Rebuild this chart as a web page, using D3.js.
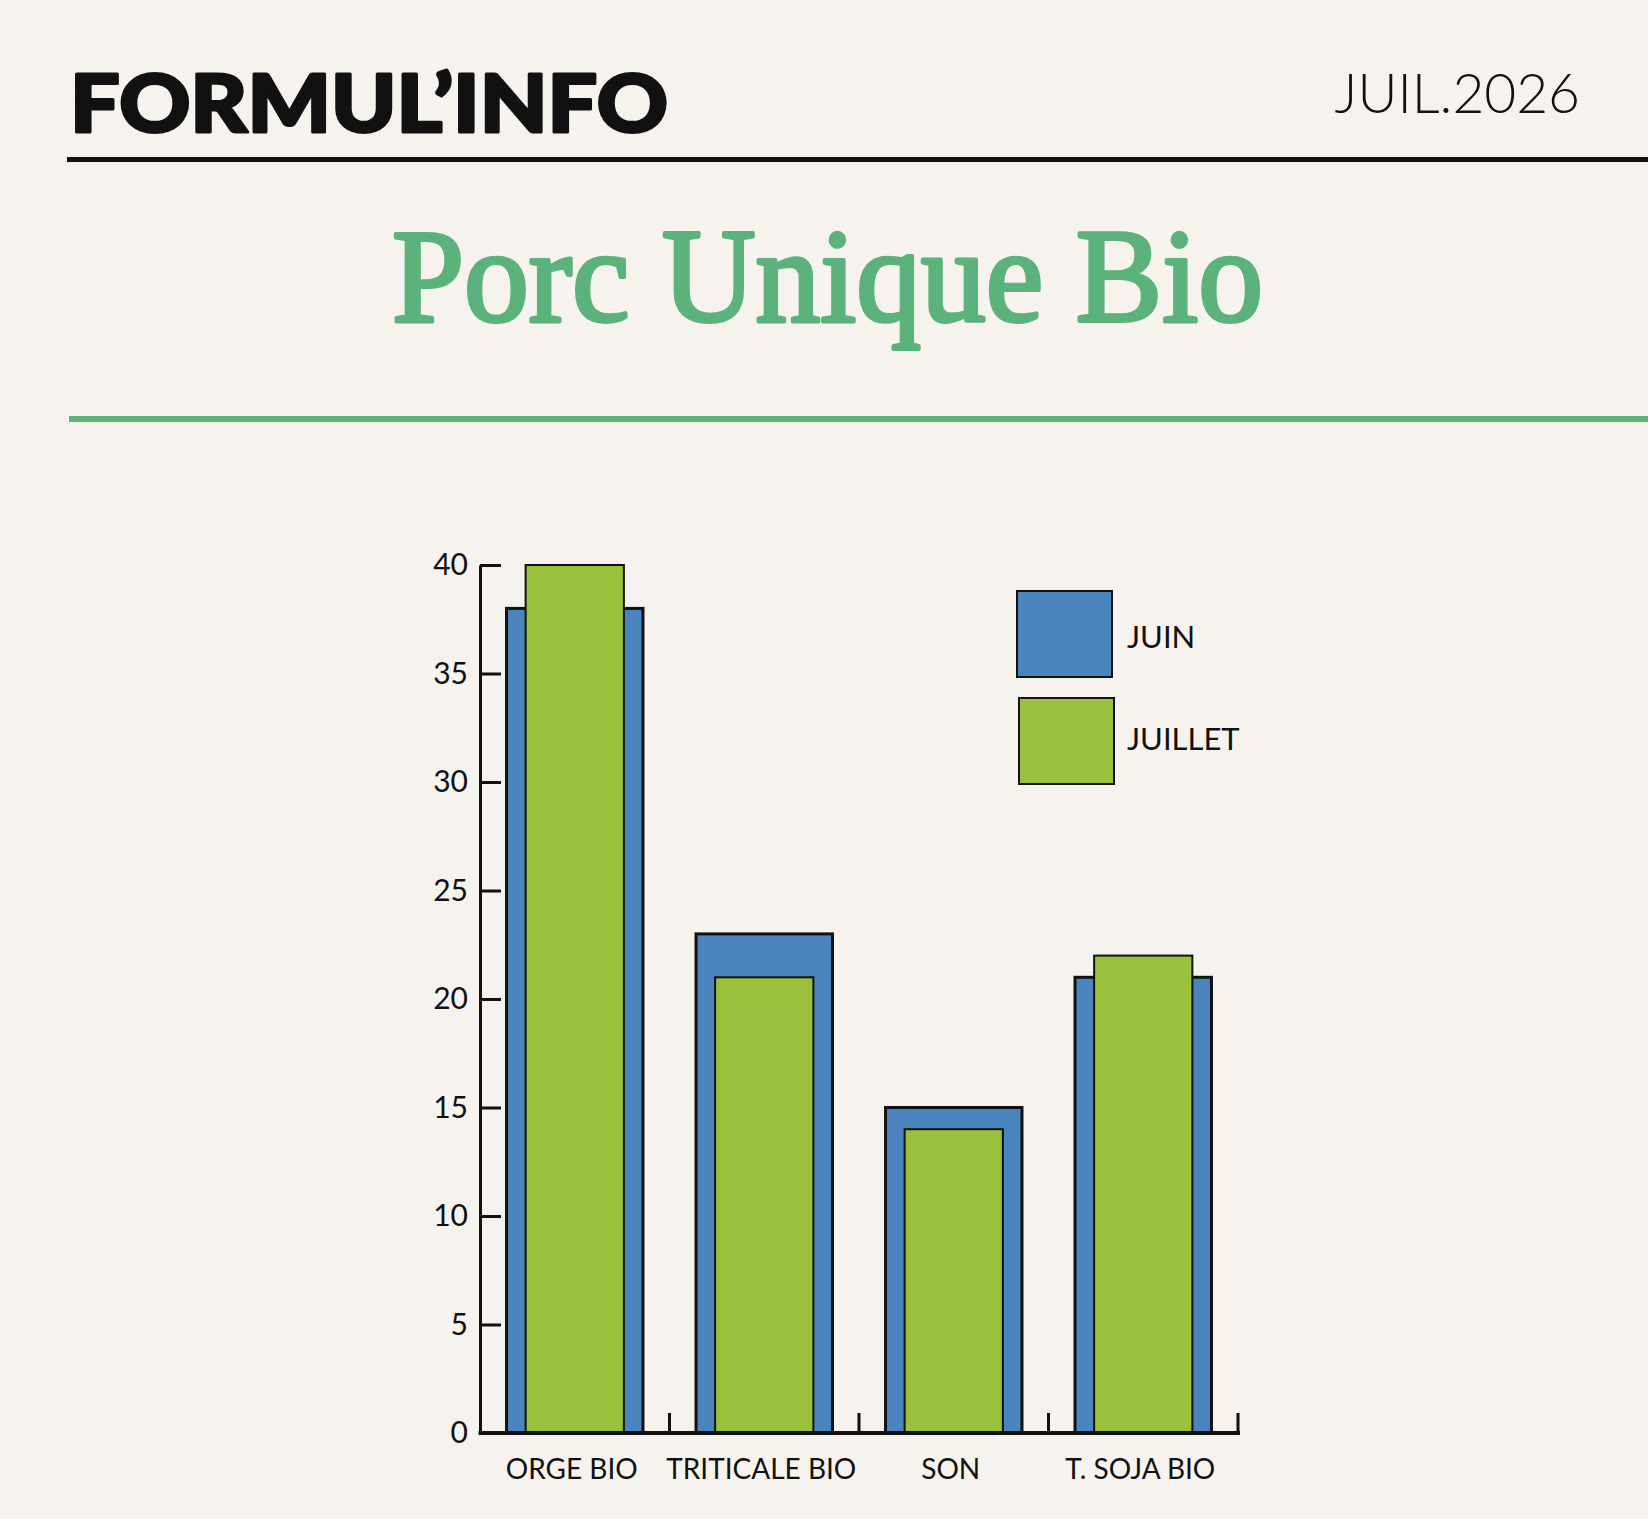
<!DOCTYPE html>
<html>
<head>
<meta charset="utf-8">
<script src="https://cdn.jsdelivr.net/npm/d3@7"></script>
<style>
  body { margin: 0; background: #f6f2ee; }
  svg { display: block; }
</style>
</head>
<body>
<div id="chart"></div>
<script>
//categories and series
var categories = ["ORGE BIO", "TRITICALE BIO", "SON", "T. SOJA BIO"];
var seriesNames = ["JUIN", "JUILLET"];
var juin = [38, 23, 15, 21];
var juillet = [40, 21, 14, 22];
var yTicks = [0, 5, 10, 15, 20, 25, 30, 35, 40];

var blue = "#4a86bd";
var green = "#99c13c";
var titleGreen = "#5bb27a";

var width = 1648, height = 1519;

var svg = d3.select("#chart")
  .append("svg")
  .attr("width", width)
  .attr("height", height);

svg.append("rect")
  .attr("width", width)
  .attr("height", height)
  .attr("fill", "#f6f2ee");

//header
svg.append("text")
  .attr("x", 70)
  .attr("y", 132)
  .attr("font-family", "Lato")
  .attr("font-weight", 900)
  .attr("font-size", 80)
  .attr("textLength", 598)
  .attr("lengthAdjust", "spacingAndGlyphs")
  .attr("fill", "#111")
  .attr("stroke", "#111")
  .attr("stroke-width", 3)
  .attr("stroke-linejoin", "round")
  .text("FORMUL\u2019INFO");

svg.append("text")
  .attr("x", 1580)
  .attr("y", 113)
  .attr("text-anchor", "end")
  .attr("font-family", "Lato")
  .attr("font-weight", 300)
  .attr("font-size", 55)
  .attr("fill", "#111")
  .text("JUIL.2026");

svg.append("rect")
  .attr("x", 67).attr("y", 157)
  .attr("width", width - 67).attr("height", 5)
  .attr("fill", "#111");

//title
svg.append("text")
  .attr("x", 392)
  .attr("y", 321)
  .attr("font-family", "Liberation Serif")
  .attr("font-weight", 400)
  .attr("font-size", 133)
  .attr("textLength", 871)
  .attr("lengthAdjust", "spacingAndGlyphs")
  .attr("fill", titleGreen)
  .attr("stroke", titleGreen)
  .attr("stroke-width", 4)
  .attr("stroke-linejoin", "round")
  .text("Porc Unique Bio");

svg.append("rect")
  .attr("x", 69).attr("y", 416)
  .attr("width", width - 69).attr("height", 6)
  .attr("fill", titleGreen);

//chart area
var x0 = 480, x1 = 1238, yBase = 1433, yTop = 565;

var x = d3.scaleBand()
  .domain(categories)
  .range([x0, x1])
  .paddingInner(0.28)
  .paddingOuter(0.14);

var y = d3.scaleLinear()
  .domain([0, 40])
  .range([yBase, yTop]);

var g = svg.append("g");

//juin bars (wide, behind)
g.selectAll(".juin")
  .data(categories)
  .enter()
  .append("rect")
  .attr("class", "juin")
  .attr("x", function(d) { return x(d); })
  .attr("y", function(d, i) { return y(juin[i]); })
  .attr("width", x.bandwidth())
  .attr("height", function(d, i) { return y(0) - y(juin[i]); })
  .attr("fill", blue)
  .attr("stroke", "#111")
  .attr("stroke-width", 3);

//juillet bars (narrow, in front)
var inset = x.bandwidth() * 0.14;
g.selectAll(".juillet")
  .data(categories)
  .enter()
  .append("rect")
  .attr("class", "juillet")
  .attr("x", function(d) { return x(d) + inset; })
  .attr("y", function(d, i) { return y(juillet[i]); })
  .attr("width", x.bandwidth() - 2 * inset)
  .attr("height", function(d, i) { return y(0) - y(juillet[i]); })
  .attr("fill", green)
  .attr("stroke", "#111")
  .attr("stroke-width", 2);

//y axis
var yAxis = d3.axisLeft(y)
  .tickValues(yTicks)
  .tickSizeInner(-21)
  .tickSizeOuter(0)
  .tickPadding(12);

var yg = svg.append("g")
  .attr("transform", "translate(" + x0 + ",0)")
  .call(yAxis);

yg.selectAll("path, line")
  .attr("stroke", "#111")
  .attr("stroke-width", 3);
yg.selectAll("text")
  .attr("font-family", "Lato")
  .attr("font-size", 30)
  .attr("fill", "#111");
//drop the tick at zero, the baseline covers it
yg.selectAll(".tick").filter(function(d) { return d === 0; }).select("line").remove();

//x axis baseline
svg.append("line")
  .attr("x1", x0 - 1.5).attr("x2", x1 + 2)
  .attr("y1", yBase).attr("y2", yBase)
  .attr("stroke", "#111")
  .attr("stroke-width", 4);

//ticks at band boundaries
var boundaries = categories.map(function(d) {
  return x(d) + x.bandwidth() + x.step() * x.paddingInner() / 2;
});
svg.selectAll(".xtick")
  .data(boundaries)
  .enter()
  .append("line")
  .attr("class", "xtick")
  .attr("x1", function(d) { return d; })
  .attr("x2", function(d) { return d; })
  .attr("y1", yBase)
  .attr("y2", yBase - 20)
  .attr("stroke", "#111")
  .attr("stroke-width", 3);

//category labels
var xAxis = d3.axisBottom(x).tickSize(0).tickPadding(26);
var xg = svg.append("g")
  .attr("transform", "translate(-3," + yBase + ")")
  .call(xAxis);
xg.select(".domain").remove();
xg.selectAll("text")
  .attr("font-family", "Lato")
  .attr("font-size", 28)
  .attr("fill", "#111");

//legend
var legend = svg.append("g").attr("transform", "translate(1017,591)");
var legendColors = [blue, green];
var item = legend.selectAll(".item")
  .data(seriesNames)
  .enter()
  .append("g")
  .attr("class", "item")
  .attr("transform", function(d, i) { return "translate(" + i * 2 + "," + i * 107 + ")"; });

item.append("rect")
  .attr("width", 95)
  .attr("height", 86)
  .attr("fill", function(d, i) { return legendColors[i]; })
  .attr("stroke", "#111")
  .attr("stroke-width", 2);

item.append("text")
  .attr("x", function(d, i) { return 110 - i * 2; })
  .attr("y", function(d, i) { return 57 - i * 5; })
  .attr("font-family", "Lato")
  .attr("font-size", 31)
  .attr("fill", "#111")
  .text(function(d) { return d; });
</script>
</body>
</html>
